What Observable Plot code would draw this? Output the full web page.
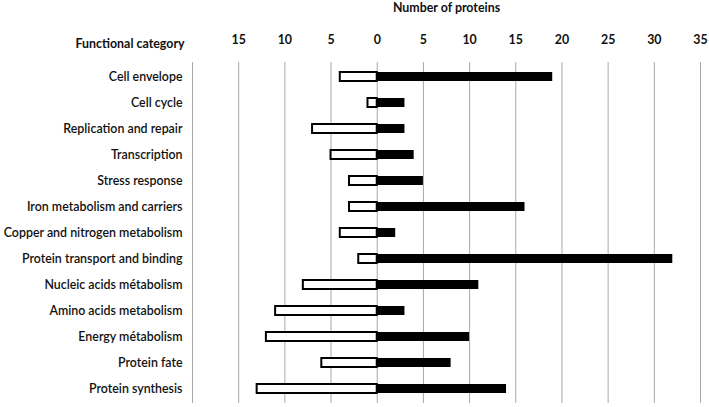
<!DOCTYPE html>
<html>
<head>
<meta charset="utf-8">
<script src="https://cdn.jsdelivr.net/npm/d3@7"></script>
<script src="https://cdn.jsdelivr.net/npm/@observablehq/plot@0.6"></script>
<style>
  html, body { margin: 0; padding: 0; background: #fff; }
</style>
</head>
<body>
<div id="chart"></div>
<script>
const categories = [
  "Cell envelope",
  "Cell cycle",
  "Replication and repair",
  "Transcription",
  "Stress response",
  "Iron metabolism and carriers",
  "Copper and nitrogen metabolism",
  "Protein transport and binding",
  "Nucleic acids métabolism",
  "Amino acids metabolism",
  "Energy métabolism",
  "Protein fate",
  "Protein synthesis"
];
const leftValues = [4, 1, 7, 5, 3, 3, 4, 2, 8, 11, 12, 6, 13];
const rightValues = [19, 3, 3, 4, 5, 16, 2, 32, 11, 3, 10, 8, 14];
const xTicks = [-15, -10, -5, 0, 5, 10, 15, 20, 25, 30, 35];
const gridValues = [-20, -15, -10, -5, 0, 5, 10, 15, 20, 25, 30, 35];

const leftData = categories.map((c, i) => ({category: c, value: -leftValues[i]}));
const rightData = categories.map((c, i) => ({category: c, value: rightValues[i]}));

const chart = Plot.plot({
  width: 709,
  height: 407,
  marginTop: 62,
  marginBottom: 4,
  marginLeft: 192,
  marginRight: 9,
  style: {fontFamily: "Lato, sans-serif", fontSize: "12px", color: "#111", background: "#fff"},
  x: {domain: [-20, 35]},
  y: {domain: categories, paddingInner: 0.64, paddingOuter: 0.35},
  marks: [
    Plot.ruleX(gridValues, {stroke: "#a8a8a8", strokeWidth: 1}),
    Plot.barX(leftData, {y: "category", x1: 0, x2: "value", fill: "#fff", stroke: "#000", strokeWidth: 2}),
    Plot.barX(rightData, {y: "category", x1: 0, x2: "value", fill: "#000"}),
    Plot.axisY({tickSize: 0, tickPadding: 10, label: null, fontWeight: 600, fontSize: 12.4}),
    Plot.axisX({anchor: "top", ticks: xTicks, tickSize: 0, tickPadding: 19, tickFormat: d => Math.abs(d),
      fontWeight: "bold", fontSize: 12.4, label: "Number of proteins", labelAnchor: "center", labelArrow: "none"}),
    Plot.text(["Functional category"], {frameAnchor: "top-left", dx: -117, dy: -23, textAnchor: "start", fontWeight: "bold", fontSize: 12.4})
  ]
});
document.getElementById("chart").appendChild(chart);
</script>
</body>
</html>
